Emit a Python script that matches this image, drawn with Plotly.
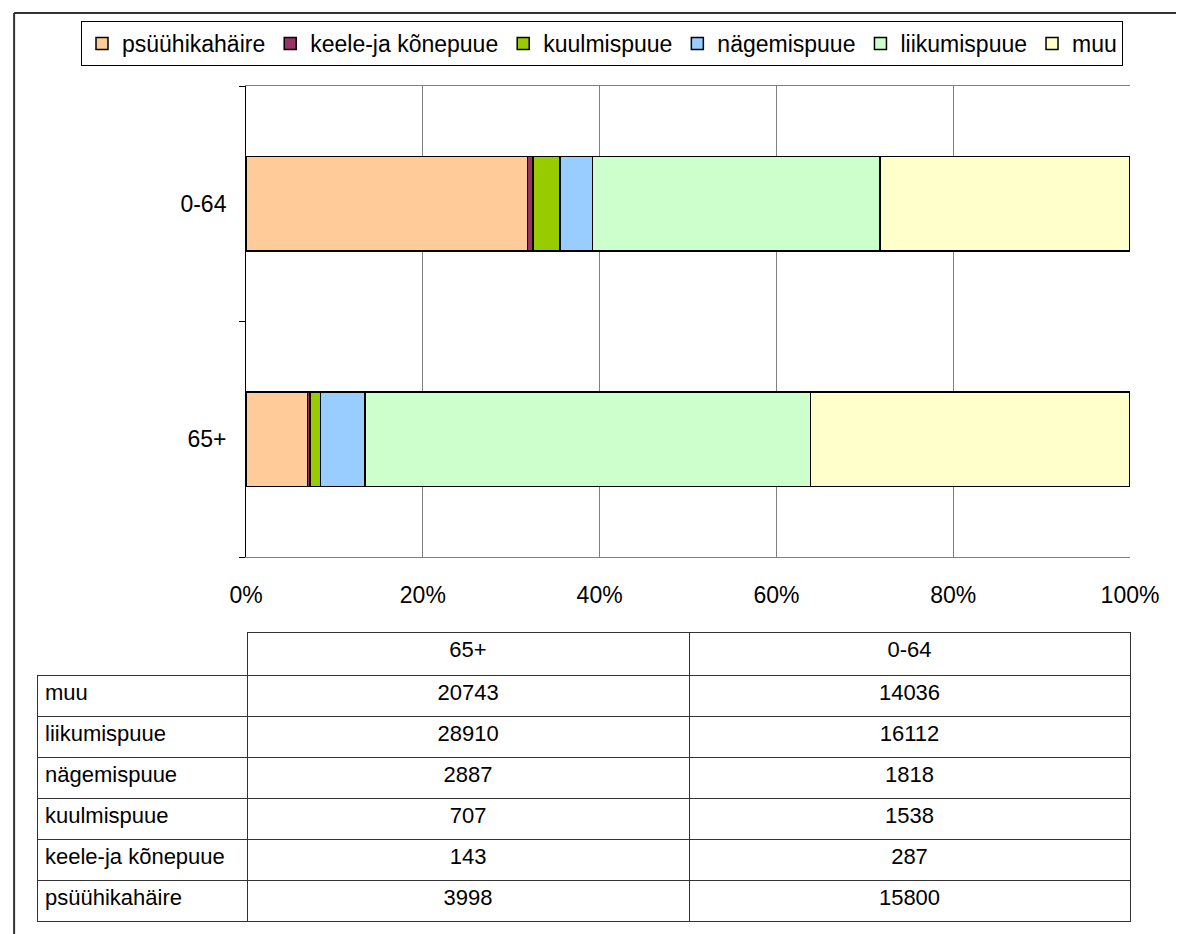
import plotly.graph_objects as go

# ---- data ----
categories = ["65+", "0-64"]
series_names = ["psüühikahäire", "keele-ja kõnepuue", "kuulmispuue",
                "nägemispuue", "liikumispuue", "muu"]
psyyhikahaire = [3998, 15800]
keele_konepuue = [143, 287]
kuulmispuue = [707, 1538]
nagemispuue = [2887, 1818]
liikumispuue = [28910, 16112]
muu = [20743, 14036]
series_values = [psyyhikahaire, keele_konepuue, kuulmispuue,
                 nagemispuue, liikumispuue, muu]
colors = ["#FFCC99", "#993366", "#99CC00", "#99CCFF", "#CCFFCC", "#FFFFCC"]
x_tickvals = [0, 20, 40, 60, 80, 100]
x_ticktext = ["0%", "20%", "40%", "60%", "80%", "100%"]

FONT = "Liberation Sans, Arial, sans-serif"

OFF = 8  # page offset of the figure (body margin)
W, H = 1176, 926
ML = 32 - OFF
MR = W - (1130 - OFF)
MT = 86 - OFF
MB = H - (922 - OFF)
PW = W - ML - MR
PH = H - MT - MB


def px_x(x):
    """page pixel x -> paper fraction"""
    return (x - OFF - ML) / PW


def px_y(y):
    """page pixel y -> paper fraction"""
    return (H - MB - (y - OFF)) / PH


fig = go.Figure()
for name, vals, col in zip(series_names, series_values, colors):
    fig.add_trace(go.Bar(
        y=categories, x=vals, name=name, orientation="h",
        marker=dict(color=col, line=dict(color="black", width=1.5)),
        xaxis="x", yaxis="y",
    ))

# data table below the chart (rows in reverse series order)
row_labels = series_names[::-1]
col_65 = [v[0] for v in series_values][::-1]
col_064 = [v[1] for v in series_values][::-1]

fig.add_trace(go.Table(
    domain=dict(x=[0, 1], y=[0, px_y(632)]),
    columnwidth=[211, 444, 443],
    header=dict(
        values=[""] + categories,
        height=43,
        align=["left", "center", "center"],
        font=dict(family=FONT, size=22, color="black"),
        fill=dict(color=["rgba(0,0,0,0)", "white", "white"]),
        line=dict(color=["rgba(0,0,0,0)", "#333333", "#333333"], width=[0, 1, 1]),
    ),
    cells=dict(
        values=[row_labels, col_65, col_064],
        height=41,
        align=["left", "center", "center"],
        font=dict(family=FONT, size=22, color="black"),
        fill=dict(color="white"),
        line=dict(color="#333333", width=1),
    ),
))

fig.update_layout(
    width=W, height=H,
    margin=dict(l=ML, r=MR, t=MT, b=MB, pad=0),
    paper_bgcolor="white", plot_bgcolor="white",
    barmode="stack", barnorm="percent", bargap=0.6,
    font=dict(family=FONT, size=23, color="black"),
    showlegend=True,
    legend=dict(
        orientation="h", xref="container", yref="container",
        x=(602 - OFF) / W, xanchor="center", y=1 - (21 - OFF) / H, yanchor="top",
        bgcolor="white", bordercolor="black", borderwidth=1,
        font=dict(family=FONT, size=23, color="black"),
        traceorder="normal", itemwidth=30, tracegroupgap=0,
    ),
    xaxis=dict(
        domain=[px_x(242), 1], range=[0, 100],
        tickmode="array", tickvals=x_tickvals, ticktext=x_ticktext,
        showgrid=True, gridcolor="#7f7f7f", gridwidth=1,
        showline=True, linecolor="#7f7f7f", linewidth=1, mirror=True,
        ticks="", zeroline=False, anchor="y",
        tickfont=dict(family=FONT, size=23, color="black"),
        ticklabelstandoff=17, fixedrange=True,
    ),
    yaxis=dict(
        domain=[px_y(557), px_y(86)],
        categoryorder="array", categoryarray=categories,
        showline=True, linecolor="black", linewidth=1,
        ticks="outside", tickson="boundaries", ticklen=6, tickcolor="black",
        showgrid=False, anchor="x",
        tickfont=dict(family=FONT, size=23, color="black"),
        ticklabelstandoff=14, fixedrange=True,
    ),
    shapes=[
        dict(type="line", xref="paper", yref="paper",
             x0=px_x(9), x1=px_x(1200), y0=px_y(13), y1=px_y(13),
             line=dict(color="#333333", width=2)),
        dict(type="line", xref="paper", yref="paper",
             x0=px_x(9), x1=px_x(9), y0=px_y(13), y1=px_y(950),
             line=dict(color="#333333", width=2)),
    ],
)

fig.write_html("out.html")
